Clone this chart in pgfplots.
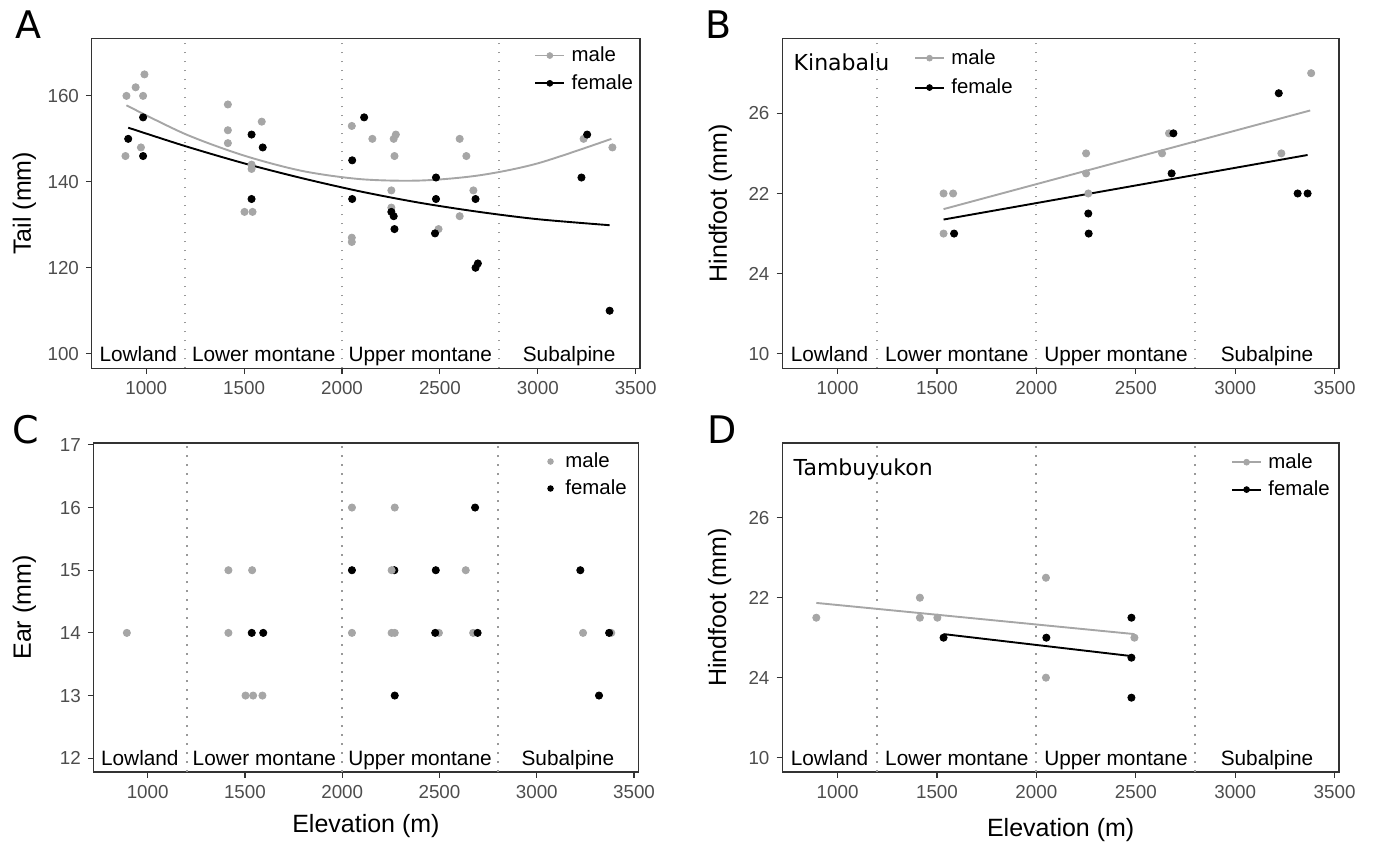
\documentclass[border=0pt]{standalone}
\usepackage{fontspec}
\setmainfont{Liberation Sans}
\newfontfamily\djv{DejaVu Sans}
\usepackage{pgfplots}
\pgfplotsset{compat=1.18}

\definecolor{mgray}{HTML}{A6A6A6}
\definecolor{ticktext}{HTML}{4D4D4D}
\definecolor{frame}{HTML}{333333}
\definecolor{vline}{HTML}{999999}

\tikzset{
  zone/.style={font=\fontsize{10.4}{12}\selectfont, anchor=base, inner sep=0pt, yshift=3.3pt},
  plab/.style={anchor=north west, inner sep=0pt, font=\djv\fontsize{19}{21}\selectfont},
}
\pgfplotsset{
  panel/.style={
    scale only axis, anchor=south west,
    xmin=722, xmax=3522,
    xtick={1000,1500,2000,2500,3000,3500},
    axis line style={color=frame, line width=0.55pt},
    tick style={color=frame, line width=0.55pt},
    tick align=outside, tick pos=left,
    major tick length=2.9pt,
    tick label style={font=\fontsize{9.4}{11}\selectfont, text=ticktext},
    /pgf/number format/assume math mode=true,
    /pgf/number format/1000 sep={},
    label style={font=\fontsize{12.5}{14}\selectfont},
    legend cell align=left,
    legend style={draw=none, fill=none, inner sep=0pt, anchor=north west,
      font=\fontsize{10.2}{12}\selectfont, nodes={inner sep=1pt},
      row sep=3.0pt, column sep=2.2pt},
    legend image code/.code={\draw[mark repeat=2,mark phase=2,#1]
      plot coordinates {(0pt,0pt) (7.25pt,0pt) (14.5pt,0pt)};},
  },
  pts/.style={only marks, mark=*, mark size=1.8pt, color=#1, mark options={line width=0.4pt}},
  fitl/.style={#1, line width=0.95pt, no marks},
  key/.style={color=#1, line width=0.95pt, mark=*, mark size=1.5pt, mark options={line width=0.3pt}},
  vl/.style={vline, line width=1.0pt, dash pattern=on 0.9pt off 3.6pt, forget plot},
}

\begin{document}
\begin{tikzpicture}
\path[use as bounding box] (0pt,0pt) rectangle (687pt,421.5pt);

% ---------------- A: tail
\begin{axis}[panel, at={(45.9pt,237.35pt)}, width=274.1pt, height=165pt,
  ymin=96.6, ymax=173.4, ytick={100,120,140,160},
  ylabel={Tail (mm)}, ylabel style={at={(axis description cs:-0.123,0.5)}, anchor=center},
  legend style={at={(0.8066,0.982)}}]
\addlegendimage{key=mgray}\addlegendentry{male}
\addlegendimage{key=black}\addlegendentry{female}
\addplot[vl] coordinates {(1200,96.6) (1200,173.4)};
\addplot[vl] coordinates {(2000,96.6) (2000,173.4)};
\addplot[vl] coordinates {(2800,96.6) (2800,173.4)};
\addplot[pts=mgray, forget plot] coordinates {
(894,146) (899,160) (946,162) (991,165) (984,160) (973,148) (1417,158) (1417,152)
(1417,149) (1502,133) (1543,133) (1538,144) (1538,143) (1590,154) (2050,153)
(2050,127) (2050,126) (2155,150) (2252,138) (2252,134) (2264,150) (2275,151)
(2268,146) (2493,129) (2601,150) (2601,132) (2635,146) (2671,138) (3234,150) (3381,148)};
\addplot[pts=black, forget plot] coordinates {
(908,150) (984,155) (984,146) (1538,151) (1538,136) (1595,148) (2052,145) (2052,136)
(2113,155) (2252,133) (2264,132) (2268,129) (2480,141) (2480,136) (2475,128)
(2682,136) (2682,120) (2694,121) (3252,151) (3223,141) (3367,110)};
\addplot[fitl=mgray, smooth, forget plot] coordinates {
(899,157.8) (1200,151.1) (1500,146.1) (1800,142.5) (2100,140.6) (2400,140.3)
(2700,141.5) (3000,144.3) (3376,150.0)};
\addplot[fitl=black, smooth, forget plot] coordinates {
(908,152.6) (1200,148.3) (1500,144.3) (1800,140.8) (2100,137.7) (2400,135.1)
(2700,133.0) (3000,131.3) (3367,129.9)};
\node[zone] at (rel axis cs:0.0849,0) {Lowland};
\node[zone] at (rel axis cs:0.3136,0) {Lower montane};
\node[zone] at (rel axis cs:0.5993,0) {Upper montane};
\node[zone] at (rel axis cs:0.8707,0) {Subalpine};
\end{axis}

% ---------------- B: hindfoot Kinabalu
\begin{axis}[panel, at={(391.15pt,237.35pt)}, width=278.35pt, height=165pt,
  ymin=19.64, ymax=27.87, ytick={20,22,24,26}, yticklabels={10,24,22,26},
  ylabel={Hindfoot (mm)}, ylabel style={at={(axis description cs:-0.111,0.5)}, anchor=center},
  legend style={at={(0.236,0.974)}, row sep=3.8pt}]
\addlegendimage{key=mgray}\addlegendentry{male}
\addlegendimage{key=black}\addlegendentry{female}
\addplot[vl] coordinates {(1200,19.64) (1200,27.87)};
\addplot[vl] coordinates {(2000,19.64) (2000,27.87)};
\addplot[vl] coordinates {(2800,19.64) (2800,27.87)};
\addplot[pts=mgray, forget plot] coordinates {
(1533,24) (1581,24) (1533,23) (2250,25) (2250,24.5) (2261,24) (2632,25) (2667,25.5)
(3232,25) (3382,27)};
\addplot[pts=black, forget plot] coordinates {
(1586,23) (2261,23.5) (2263,23) (2689,25.5) (2680,24.5) (3219,26.5) (3314,24) (3364,24)};
\addplot[fitl=mgray, forget plot] coordinates {(1533,23.61) (3377,26.07)};
\addplot[fitl=black, forget plot] coordinates {(1533,23.35) (3364,24.96)};
\node[anchor=base west, inner sep=0pt, font=\djv\fontsize{11}{13}\selectfont]
  at (rel axis cs:0.0198,0.9015) {Kinabalu};
\node[zone] at (rel axis cs:0.0849,0) {Lowland};
\node[zone] at (rel axis cs:0.3136,0) {Lower montane};
\node[zone] at (rel axis cs:0.5993,0) {Upper montane};
\node[zone] at (rel axis cs:0.8707,0) {Subalpine};
\end{axis}

% ---------------- C: ear
\begin{axis}[panel, at={(46.8pt,35.5pt)}, width=272.35pt, height=164.5pt,
  ymin=11.78, ymax=17.03, ytick={12,13,14,15,16,17},
  ylabel={Ear (mm)}, ylabel style={at={(axis description cs:-0.127,0.5)}, anchor=center},
  xlabel={Elevation (m)}, xlabel style={at={(axis description cs:0.5,-0.164)}, anchor=center},
  legend style={at={(0.8217,0.978)}, row sep=2.6pt, column sep=2pt},
  legend image code/.code={\path (0pt,0pt) (8.54pt,0pt);
    \draw[#1] plot coordinates {(4.27pt,0pt)};}]
\addlegendimage{only marks, mark=*, mark size=1.4pt, color=mgray}\addlegendentry{male}
\addlegendimage{only marks, mark=*, mark size=1.4pt, color=black}\addlegendentry{female}
\addplot[vl] coordinates {(1200,11.78) (1200,17.03)};
\addplot[vl] coordinates {(2000,11.78) (2000,17.03)};
\addplot[vl] coordinates {(2800,11.78) (2800,17.03)};
\addplot[pts=black, forget plot] coordinates {(2268,15)};
\addplot[pts=mgray, forget plot] coordinates {
(893,14) (1415,15) (1537,15) (1415,14) (1503,13) (1542,13) (1590,13) (2050,16)
(2270,16) (2050,14) (2254,14) (2270,14) (2254,15) (2497,14) (2635,15) (2673,14)
(3238,14) (3383,14)};
\addplot[pts=black, forget plot] coordinates {
(1535,14) (1594,14) (2050,15) (2270,13) (2481,15) (2478,14) (2683,16)
(2696,14) (3224,15) (3320,13) (3372,14)};
\node[zone] at (rel axis cs:0.0849,0) {Lowland};
\node[zone] at (rel axis cs:0.3136,0) {Lower montane};
\node[zone] at (rel axis cs:0.5993,0) {Upper montane};
\node[zone] at (rel axis cs:0.8707,0) {Subalpine};
\end{axis}

% ---------------- D: hindfoot Tambuyukon
\begin{axis}[panel, at={(391.15pt,35.5pt)}, width=278.35pt, height=164.5pt,
  ymin=19.64, ymax=27.87, ytick={20,22,24,26}, yticklabels={10,24,22,26},
  ylabel={Hindfoot (mm)}, ylabel style={at={(axis description cs:-0.1126,0.5)}, anchor=center},
  xlabel={Elevation (m)}, xlabel style={at={(axis description cs:0.5,-0.176)}, anchor=center},
  legend style={at={(0.8055,0.976)}, row sep=2.8pt}]
\addlegendimage{key=mgray}\addlegendentry{male}
\addlegendimage{key=black}\addlegendentry{female}
\addplot[vl] coordinates {(1200,19.64) (1200,27.87)};
\addplot[vl] coordinates {(2000,19.64) (2000,27.87)};
\addplot[vl] coordinates {(2800,19.64) (2800,27.87)};
\addplot[pts=mgray, forget plot] coordinates {
(893,23.5) (1414,24) (1414,23.5) (1502,23.5) (2048,24.5) (2048,22) (2493,23)};
\addplot[pts=black, forget plot] coordinates {
(1533,23) (2050,23) (2478,23.5) (2478,22.5) (2478,21.5)};
\addplot[fitl=mgray, forget plot] coordinates {(893,23.87) (2493,23.09)};
\addplot[fitl=black, forget plot] coordinates {(1533,23.09) (2478,22.54)};
\node[anchor=base west, inner sep=0pt, font=\djv\fontsize{11}{13}\selectfont]
  at (rel axis cs:0.0198,0.9) {Tambuyukon};
\node[zone] at (rel axis cs:0.0849,0) {Lowland};
\node[zone] at (rel axis cs:0.3136,0) {Lower montane};
\node[zone] at (rel axis cs:0.5993,0) {Upper montane};
\node[zone] at (rel axis cs:0.8707,0) {Subalpine};
\end{axis}

% panel letters
\node[plab] at (7.5pt,416.5pt) {A};
\node[plab] at (352.5pt,416.5pt) {B};
\node[plab] at (6pt,214pt) {C};
\node[plab] at (353.5pt,214pt) {D};
\end{tikzpicture}
\end{document}
